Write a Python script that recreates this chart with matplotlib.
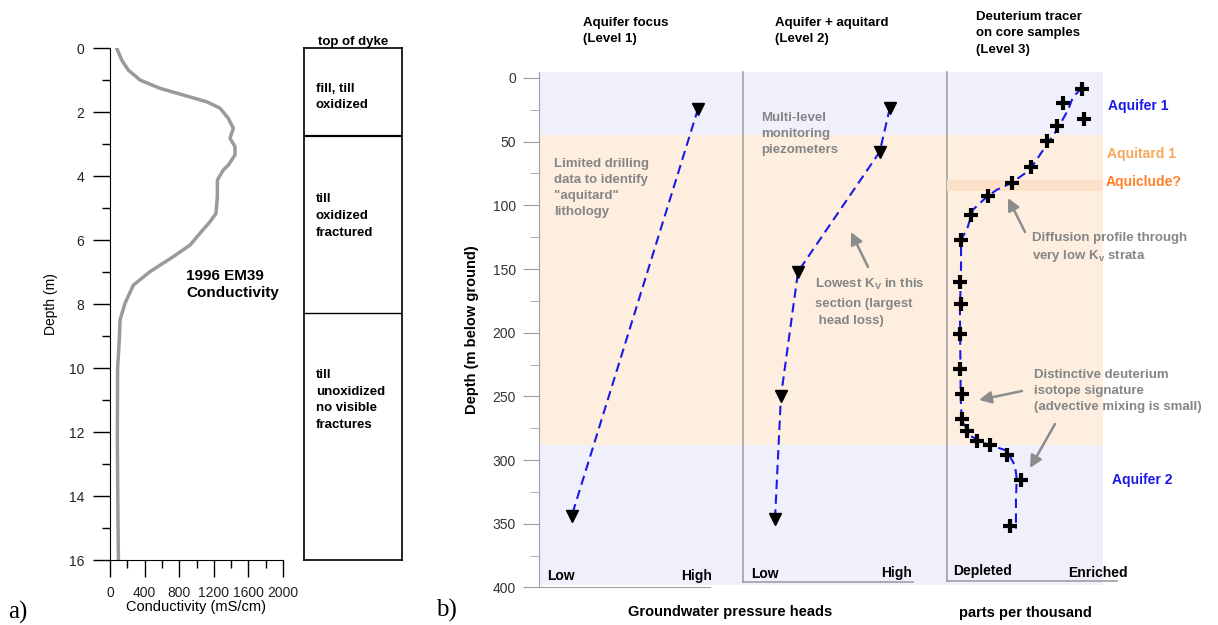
import numpy as np
import matplotlib.pyplot as plt
from matplotlib.patches import FancyArrowPatch

plt.rcParams['font.family'] = ['Liberation Sans', 'DejaVu Sans']

W, H = 1218, 625

# ---- panel a : EM39 conductivity log (depth m, mS/cm)
em_depth = [0, 0.375, 0.69, 1.0, 1.26, 1.47, 1.68, 1.88, 2.2, 2.51, 2.82, 3.08, 3.34,
            3.66, 3.81, 4.13, 4.65, 5.17, 5.43, 5.79, 6.16, 6.52, 6.99, 7.41, 7.98,
            8.5, 9.1, 10, 12.2, 14, 16]
em_cond = [77, 135, 212, 347, 578, 848, 1118, 1272, 1368, 1426, 1387, 1445, 1445,
           1368, 1310, 1241, 1241, 1225, 1156, 1040, 925, 732, 462, 270, 173,
           116, 108, 88, 85, 90, 97]
litho_bounds = [0, 2.75, 8.28, 16]
litho_labels = ['fill, till\noxidized', 'till\noxidized\nfractured',
                'till\nunoxidized\nno visible\nfractures']

# ---- panel b : conceptual levels (relative head / deuterium, 0 = low, 1 = high)
lvl1_depth = [24, 344]
lvl1_head = [0.78, 0.16]
lvl2_depth = [23.5, 58, 152, 250, 346]
lvl2_head = [0.72, 0.67, 0.27, 0.186, 0.157]
d2h_depth = [8.9, 19.3, 32.4, 37.6, 49.3, 70.2, 82.5, 92.9, 107.3, 126.9, 160.3,
             177.8, 201, 228.7, 248.2, 267.8, 277, 284.8, 287.9, 296, 316, 351.4]
d2h_val = [0.863, 0.742, 0.878, 0.707, 0.643, 0.538, 0.415, 0.261, 0.154, 0.090, 0.083,
           0.090, 0.083, 0.083, 0.098, 0.094, 0.126, 0.190, 0.276, 0.383, 0.472, 0.404]
fit_depth = [7.8, 14.9, 25.1, 40.7, 57.9, 72.0, 82.2, 87.7, 93.2, 103.4, 119.0, 126.9,
             148.0, 184.0, 252.2, 267.8, 280.9, 287.4, 292.6, 304.4, 314.8, 330.5, 354.0]
fit_val = [0.865, 0.808, 0.776, 0.705, 0.609, 0.532, 0.417, 0.321, 0.256, 0.167, 0.128,
           0.090, 0.090, 0.083, 0.088, 0.094, 0.147, 0.254, 0.383, 0.436, 0.447, 0.442, 0.442]
zone_top = [-5, 45, 288]
zone_bot = [45, 288, 398]
zone_col = ['#f0f0fd', '#fdeee0', '#f0f0fd']
aquiclude = (80, 89)

BLUE = '#1a1ae6'
GRAY = '#858585'


def px(x, y):
    # pixel position on the reference -> figure fraction
    return x / W, 1 - y / H


fig = plt.figure(figsize=(W / 100, H / 100), dpi=100)

# ================= panel a
axa = fig.add_axes([110 / W, 1 - 560 / H, 173 / W, 512 / H])
axa.plot(em_cond, em_depth, color='#9a9a9a', lw=2.5, solid_joinstyle='round')
axa.set_xlim(0, 2000)
axa.set_ylim(16, 0)
axa.set_xticks(np.arange(0, 2001, 400))
axa.set_xticks(np.arange(200, 2000, 400), minor=True)
axa.set_yticks(np.arange(0, 17, 2))
axa.set_yticks(np.arange(1, 16, 2), minor=True)
axa.tick_params(which='major', length=12.5, width=1, labelsize=10, pad=6, labelcolor='#222222')
axa.tick_params(which='minor', length=6, width=1)
for s in ['top', 'right']:
    axa.spines[s].set_visible(False)
axa.set_xlabel('Conductivity (mS/cm)', fontsize=10.5, labelpad=0)
axa.set_ylabel('Depth (m)', fontsize=10, labelpad=8)
axa.text(879, 7.38, '1996 EM39\nConductivity', fontsize=11, fontweight='bold',
         va='center', ha='left', linespacing=1.3)

axl = fig.add_axes([304 / W, 1 - 560 / H, 98 / W, 512 / H])
axl.set_xlim(0, 1)
axl.set_ylim(16, 0)
axl.set_xticks([])
axl.set_yticks([])
for s in axl.spines.values():
    s.set_linewidth(1.2)
for k, b in enumerate(litho_bounds[1:-1]):
    axl.axhline(b, color='black', lw=1.6 if k == 0 else 1.0)
text_depth = [1.53, 5.25, 11.0]
for lab, d in zip(litho_labels, text_depth):
    axl.text(0.12, d, lab, fontsize=9.5, fontweight='bold', va='center', ha='left',
             linespacing=1.5)
fig.text(*px(353, 42), 'top of dyke', fontsize=9.5, fontweight='bold', ha='center', va='center')

fig.text(*px(8, 612), 'a)', family='Liberation Serif', fontsize=18, va='center')

# ================= panel b
bot, top = 1 - 587.4 / H, 1 - 71.6 / H
axes_b = []
for left, width in [(539, 204), (743, 204), (947, 156)]:
    ax = fig.add_axes([left / W, bot, width / W, top - bot])
    ax.set_xlim(0, 1)
    ax.set_ylim(400, -5)
    ax.set_facecolor('none')
    for t, b_, c in zip(zone_top, zone_bot, zone_col):
        ax.axhspan(t, b_, color=c, lw=0, zorder=0)
    for s in ax.spines.values():
        s.set_visible(False)
    ax.set_xticks([])
    axes_b.append(ax)
ax1, ax2, ax3 = axes_b

ax1.spines['left'].set_visible(True)
ax1.spines['left'].set_color('#a0a0a0')
ax1.spines['left'].set_bounds(-5, 400)
ax1.spines['bottom'].set_visible(True)
ax1.spines['bottom'].set_color('#a0a0a0')
ax1.spines['bottom'].set_bounds(0, 0.84)
ax1.set_yticks(np.arange(0, 401, 50))
ax1.set_yticks(np.arange(25, 400, 50), minor=True)
ax1.tick_params(axis='y', which='major', length=11.5, color='#a0a0a0', labelsize=10,
                labelcolor='#333333', pad=5)
ax1.tick_params(axis='y', which='minor', length=6.5, color='#a0a0a0')
ax1.set_ylabel('Depth (m below ground)', fontsize=10.5, fontweight='bold', labelpad=10)

for ax, ybot, xr in [(ax2, 396, 0.835), (ax3, 395, 1.09)]:
    ax.set_yticks([])
    ax.plot([0, 0], [-5, ybot], color='#a0a0a0', lw=1.2, zorder=0.5, clip_on=False)
    ax.plot([0, xr], [ybot, ybot], color='#a0a0a0', lw=1.2, clip_on=False)
ax3.axhspan(aquiclude[0], aquiclude[1], color='#fde0c8', lw=0, zorder=0.6)

dash = dict(color=BLUE, lw=1.5, ls=(0, (4.5, 2.6)))
ax1.plot(lvl1_head, lvl1_depth, **dash, zorder=2)
ax1.plot(lvl1_head, lvl1_depth, 'v', color='black', ms=9, zorder=3)
ax2.plot(lvl2_head, lvl2_depth, **dash, zorder=2)
ax2.plot(lvl2_head, lvl2_depth, 'v', color='black', ms=9, zorder=3)
ax3.plot(fit_val, fit_depth, **dash, zorder=2)
ax3.plot(d2h_val, d2h_depth, '+', color='black', ms=10, mew=3, zorder=3, clip_on=False)

# axis end labels
ax1.text(0.04, 391, 'Low', fontsize=10, fontweight='bold', va='center')
ax1.text(0.695, 391, 'High', fontsize=10, fontweight='bold', va='center')
ax2.text(0.04, 389.5, 'Low', fontsize=10, fontweight='bold', va='center')
ax2.text(0.675, 389, 'High', fontsize=10, fontweight='bold', va='center')
ax3.text(0.04, 387.5, 'Depleted', fontsize=10, fontweight='bold', va='center')
ax3.text(0.775, 389, 'Enriched', fontsize=10, fontweight='bold', va='center')

# unit names
ax3.text(1.032, 22, 'Aquifer 1', color=BLUE, fontsize=10, fontweight='bold', va='center')
ax3.text(1.026, 59.5, 'Aquitard 1', color='#f7a65a', fontsize=10, fontweight='bold', va='center')
ax3.text(1.020, 82, 'Aquiclude?', color='#ff7f27', fontsize=10, fontweight='bold', va='center')
ax3.text(1.058, 315.6, 'Aquifer 2', color=BLUE, fontsize=10, fontweight='bold', va='center')

# headers and bottom labels
hdr = dict(fontsize=9.5, fontweight='bold', ha='left', va='center', linespacing=1.5)
fig.text(*px(583, 31), 'Aquifer focus\n(Level 1)', **hdr)
fig.text(*px(775, 31), 'Aquifer + aquitard\n(Level 2)', **hdr)
fig.text(*px(976, 33), 'Deuterium tracer\non core samples\n(Level 3)', **hdr)
fig.text(*px(628, 612), 'Groundwater pressure heads', fontsize=10.5, fontweight='bold', va='center')
fig.text(*px(959, 613), 'parts per thousand', fontsize=10.5, fontweight='bold', va='center')
fig.text(*px(436, 610), 'b)', family='Liberation Serif', fontsize=18, va='center')

# grey notes
note = dict(fontsize=9.5, fontweight='bold', color=GRAY, ha='left', va='center', linespacing=1.42)
fig.text(*px(554, 188), 'Limited drilling\ndata to identify\n"aquitard"\nlithology', **note)
fig.text(*px(761, 134), 'Multi-level\nmonitoring\npiezometers', **note)
fig.text(*px(815, 302), 'Lowest K$_\\mathregular{V}$ in this\nsection (largest\n head loss)',
         **{**note, 'linespacing': 1.6})
fig.text(*px(1032, 248), 'Diffusion profile through\nvery low K$_\\mathregular{v}$ strata', **note)
fig.text(*px(1034, 391), 'Distinctive deuterium\nisotope signature\n(advective mixing is small)', **note)

arrow = dict(arrowstyle='-|>', color='#8c8c8c', lw=1.8, mutation_scale=18, shrinkA=0, shrinkB=0)
for tail, head in [((868, 267), (851, 232)), ((1025, 232), (1008, 198)),
                   ((1022, 391), (979, 400)), ((1055, 424), (1030, 468))]:
    fig.add_artist(FancyArrowPatch(px(*tail), px(*head), transform=fig.transFigure, **arrow))

fig.savefig('out.png', dpi=100)
